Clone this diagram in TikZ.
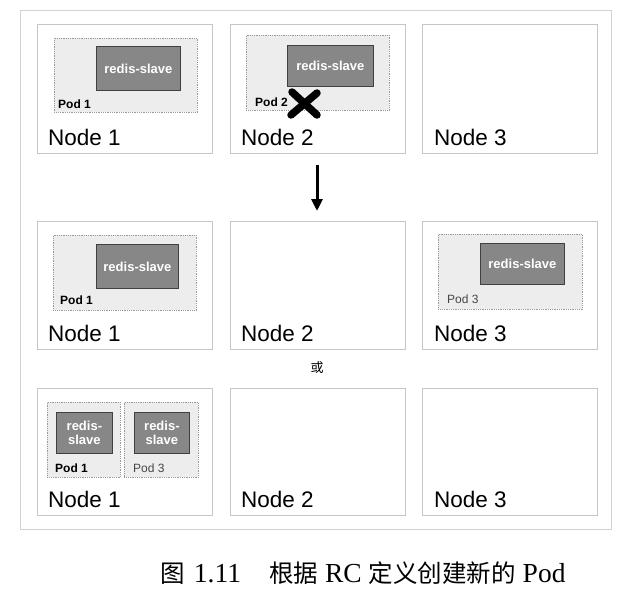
\documentclass[tikz,border=0pt]{standalone}
\usepackage{fontspec}
\setmainfont{Liberation Serif}
\setsansfont{Liberation Sans}
\newfontfamily\cjk{Noto Sans CJK SC}
\usetikzlibrary{arrows.meta}
\begin{document}
\begin{tikzpicture}[x=1pt,y=-1pt,
  nodebox/.style={draw=gray!45, line width=0.8pt, fill=white, anchor=north west, inner sep=0pt, minimum width=175pt, minimum height=129pt},
  podbox/.style={draw=gray!80, densely dotted, line width=0.8pt, fill=gray!14, anchor=north west, inner sep=0pt},
  redis/.style={draw=black!75, line width=0.8pt, fill=black!47, anchor=north west, inner sep=0pt, text=white, font=\sffamily\bfseries\fontsize{13}{14}\selectfont, align=center},
  nodelabel/.style={anchor=base west, inner sep=0pt, font=\sffamily\fontsize{22.5}{24}\selectfont},
  podlabel/.style={anchor=base west, inner sep=0pt, font=\sffamily\bfseries\fontsize{12}{14}\selectfont},
  podlabelgray/.style={anchor=base west, inner sep=0pt, font=\sffamily\fontsize{12}{14}\selectfont, text=gray!55!black}]
\useasboundingbox (0,0) rectangle (624,600);
\node[draw=gray!35, line width=0.8pt, anchor=north west, inner sep=0pt, minimum width=591pt, minimum height=519pt] (frame) at (20,10) {};
% row 1
\node[nodebox] (n11) at (37,24) {};
\node[nodebox] (n12) at (230,24) {};
\node[nodebox] (n13) at (422,24) {};
\node[podbox, minimum width=143pt, minimum height=74pt] (p11) at (54,38) {};
\node[redis, minimum width=84pt, minimum height=44pt] (r11) at (96,46) {redis-slave};
\node[podlabel] (pl11) at (58,108) {Pod 1};
\node[nodelabel] (nl11) at (48,145) {Node 1};
\node[podbox, minimum width=143pt, minimum height=75pt] (p12) at (246,35) {};
\node[redis, minimum width=86pt, minimum height=41pt] (r12) at (287,45) {redis-slave};
\node[podlabel] (pl12) at (255,106) {Pod 2};
\coordinate (x0) at (304,103);
\draw[line width=7.5pt, line cap=round] ([shift={(-12,-11)}]x0) -- ([shift={(13,12)}]x0);
\draw[line width=7.5pt, line cap=round] ([shift={(13,-10)}]x0) -- ([shift={(-13,12)}]x0);
\node[nodelabel] (nl12) at (241,145) {Node 2};
\node[nodelabel] (nl13) at (434,145) {Node 3};
% arrow
\coordinate (a1) at (317,165);
\coordinate (a2) at (317,211);
\draw[line width=3pt, -{Triangle[length=12pt,width=11pt]}] (a1) -- (a2);
% row 2
\node[nodebox, minimum height=128pt] (n21) at (37,221) {};
\node[nodebox, minimum height=128pt] (n22) at (230,221) {};
\node[nodebox, minimum height=128pt] (n23) at (422,221) {};
\node[podbox, minimum width=143pt, minimum height=75pt] (p21) at (53,235) {};
\node[redis, minimum width=82pt, minimum height=44pt] (r21) at (96,244) {redis-slave};
\node[podlabel] (pl21) at (60,304) {Pod 1};
\node[nodelabel] (nl21) at (48,341) {Node 1};
\node[nodelabel] (nl22) at (241,341) {Node 2};
\node[podbox, minimum width=144pt, minimum height=75pt] (p23) at (438,234) {};
\node[redis, minimum width=84pt, minimum height=41pt] (r23) at (480,243) {redis-slave};
\node[podlabelgray] (pl23) at (447,303) {Pod 3};
\node[nodelabel] (nl23) at (434,341) {Node 3};
% or
\node[inner sep=0pt, font=\cjk\fontsize{13}{14}\selectfont] (or) at (317,368) {或};
% row 3
\node[nodebox, minimum height=127pt] (n31) at (37,388) {};
\node[nodebox, minimum height=127pt] (n32) at (230,388) {};
\node[nodebox, minimum height=127pt] (n33) at (422,388) {};
\node[podbox, minimum width=73pt, minimum height=75pt] (p31) at (47,402) {};
\node[redis, minimum width=56pt, minimum height=41pt] (r31) at (56,412) {redis-\\slave};
\node[podlabel] (pl31) at (55,472) {Pod 1};
\node[podbox, minimum width=74pt, minimum height=75pt] (p33) at (124,402) {};
\node[redis, minimum width=55pt, minimum height=41pt] (r33) at (134,412) {redis-\\slave};
\node[podlabelgray] (pl33) at (133,472) {Pod 3};
\node[nodelabel] (nl31) at (48,507) {Node 1};
\node[nodelabel] (nl32) at (241,507) {Node 2};
\node[nodelabel] (nl33) at (434,507) {Node 3};
% caption
\node[inner sep=0pt, anchor=base, font=\fontsize{27.5}{30}\selectfont] (cap) at (363,582)
  {{\cjk\fontsize{24.5}{27}\selectfont 图}\hspace{9pt}1.11\hspace{28pt}{\cjk\fontsize{24.5}{27}\selectfont 根据}\hspace{7pt}RC\hspace{7pt}{\cjk\fontsize{24.5}{27}\selectfont 定义创建新的}\hspace{7pt}Pod};
\end{tikzpicture}
\end{document}
